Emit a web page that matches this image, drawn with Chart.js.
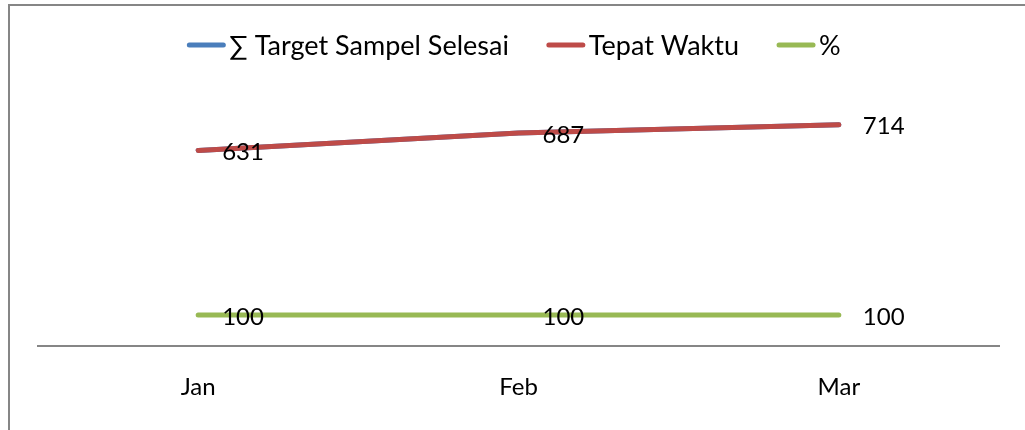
<!DOCTYPE html>
<html>
<head>
<meta charset="utf-8">
<script src="https://cdn.jsdelivr.net/npm/chart.js@4.4.1/dist/chart.umd.min.js"></script>
<style>
  body { margin: 0; background: #fff; overflow: hidden; }
  .frame { position: absolute; left: 8px; top: 4px; width: 1100px; height: 500px; border: 2px solid #868686; box-sizing: border-box; }
  .wrap { position: absolute; left: 0; top: 0; width: 1025px; height: 430px; }
</style>
</head>
<body>
<div class="frame"></div>
<div class="wrap"><canvas id="myLineChart"></canvas></div>
<script>
const months = ['Jan', 'Feb', 'Mar'];
const targetSelesai = [631, 687, 714];
const tepatWaktu = [631, 687, 714];
const persen = [100, 100, 100];

const fontFamily = 'Lato, "Open Sans", sans-serif';

// value labels to the right of each point (only red and green, blue sits underneath red)
const pointLabels = {
  id: 'pointLabels',
  afterDatasetsDraw(chart) {
    const ctx = chart.ctx;
    ctx.save();
    ctx.font = '24px ' + fontFamily;
    ctx.fillStyle = '#000';
    ctx.textAlign = 'left';
    ctx.textBaseline = 'middle';
    [1, 2].forEach(i => {
      const meta = chart.getDatasetMeta(i);
      meta.data.forEach((pt, j) => {
        ctx.fillText(chart.data.datasets[i].data[j], pt.x + 24, pt.y + 2);
      });
    });
    ctx.restore();
  }
};

// legend drawn by hand: short thick line, text right next to it
const lineLegend = {
  id: 'lineLegend',
  afterDraw(chart) {
    const ctx = chart.ctx;
    const sets = chart.data.datasets;
    const lineW = 38, gap = 4, spacing = 38, y = 45;
    ctx.save();
    ctx.font = '27px ' + fontFamily;
    const widths = sets.map(ds => lineW + gap + ctx.measureText(ds.label).width);
    const total = widths.reduce((a, b) => a + b, 0) + spacing * (sets.length - 1);
    let x = 514 - total / 2;
    sets.forEach((ds, i) => {
      ctx.strokeStyle = ds.borderColor;
      ctx.lineWidth = 5;
      ctx.lineCap = 'round';
      ctx.beginPath();
      ctx.moveTo(x + 2, y);
      ctx.lineTo(x + lineW - 2, y);
      ctx.stroke();
      ctx.fillStyle = '#000';
      ctx.textAlign = 'left';
      ctx.textBaseline = 'middle';
      ctx.fillText(ds.label, x + lineW + gap, y + 1);
      x += widths[i] + spacing;
    });
    ctx.restore();
  }
};

const data = {
  labels: months,
  datasets: [{
      label: '∑ Target Sampel Selesai',
      data: targetSelesai,
      borderColor: '#4A7EBB',
      backgroundColor: '#4A7EBB',
      borderWidth: 5,
      order: 2
  }, {
      label: 'Tepat Waktu',
      data: tepatWaktu,
      borderColor: '#BE4B48',
      backgroundColor: '#BE4B48',
      borderWidth: 5,
      order: 1
  }, {
      label: '%',
      data: persen,
      borderColor: '#98B954',
      backgroundColor: '#98B954',
      borderWidth: 5,
      order: 0
  }]
};

const config = {
  type: 'line',
  data: data,
  options: {
      responsive: true,
      maintainAspectRatio: false,
      animation: false,
      layout: {
        padding: { left: 38, right: 26, top: 98, bottom: 2 }
      },
      elements: {
        point: { radius: 0, hoverRadius: 0 },
        line: { borderCapStyle: 'round', tension: 0 }
      },
      plugins: {
        legend: { display: false },
        tooltip: { enabled: false }
      },
      scales: {
        x: {
          offset: true,
          grid: { display: false, drawTicks: false },
          border: { display: true, color: '#868686', width: 2 },
          ticks: { color: '#000', padding: 29, font: { family: fontFamily, size: 24, lineHeight: 1 } }
        },
        y: {
          display: false,
          min: 0,
          max: 800
        }
      }
  },
  plugins: [pointLabels, lineLegend]
};

const ctx = document.getElementById('myLineChart').getContext('2d');
const myLineChart = new Chart(ctx, config);
</script>
</body>
</html>
